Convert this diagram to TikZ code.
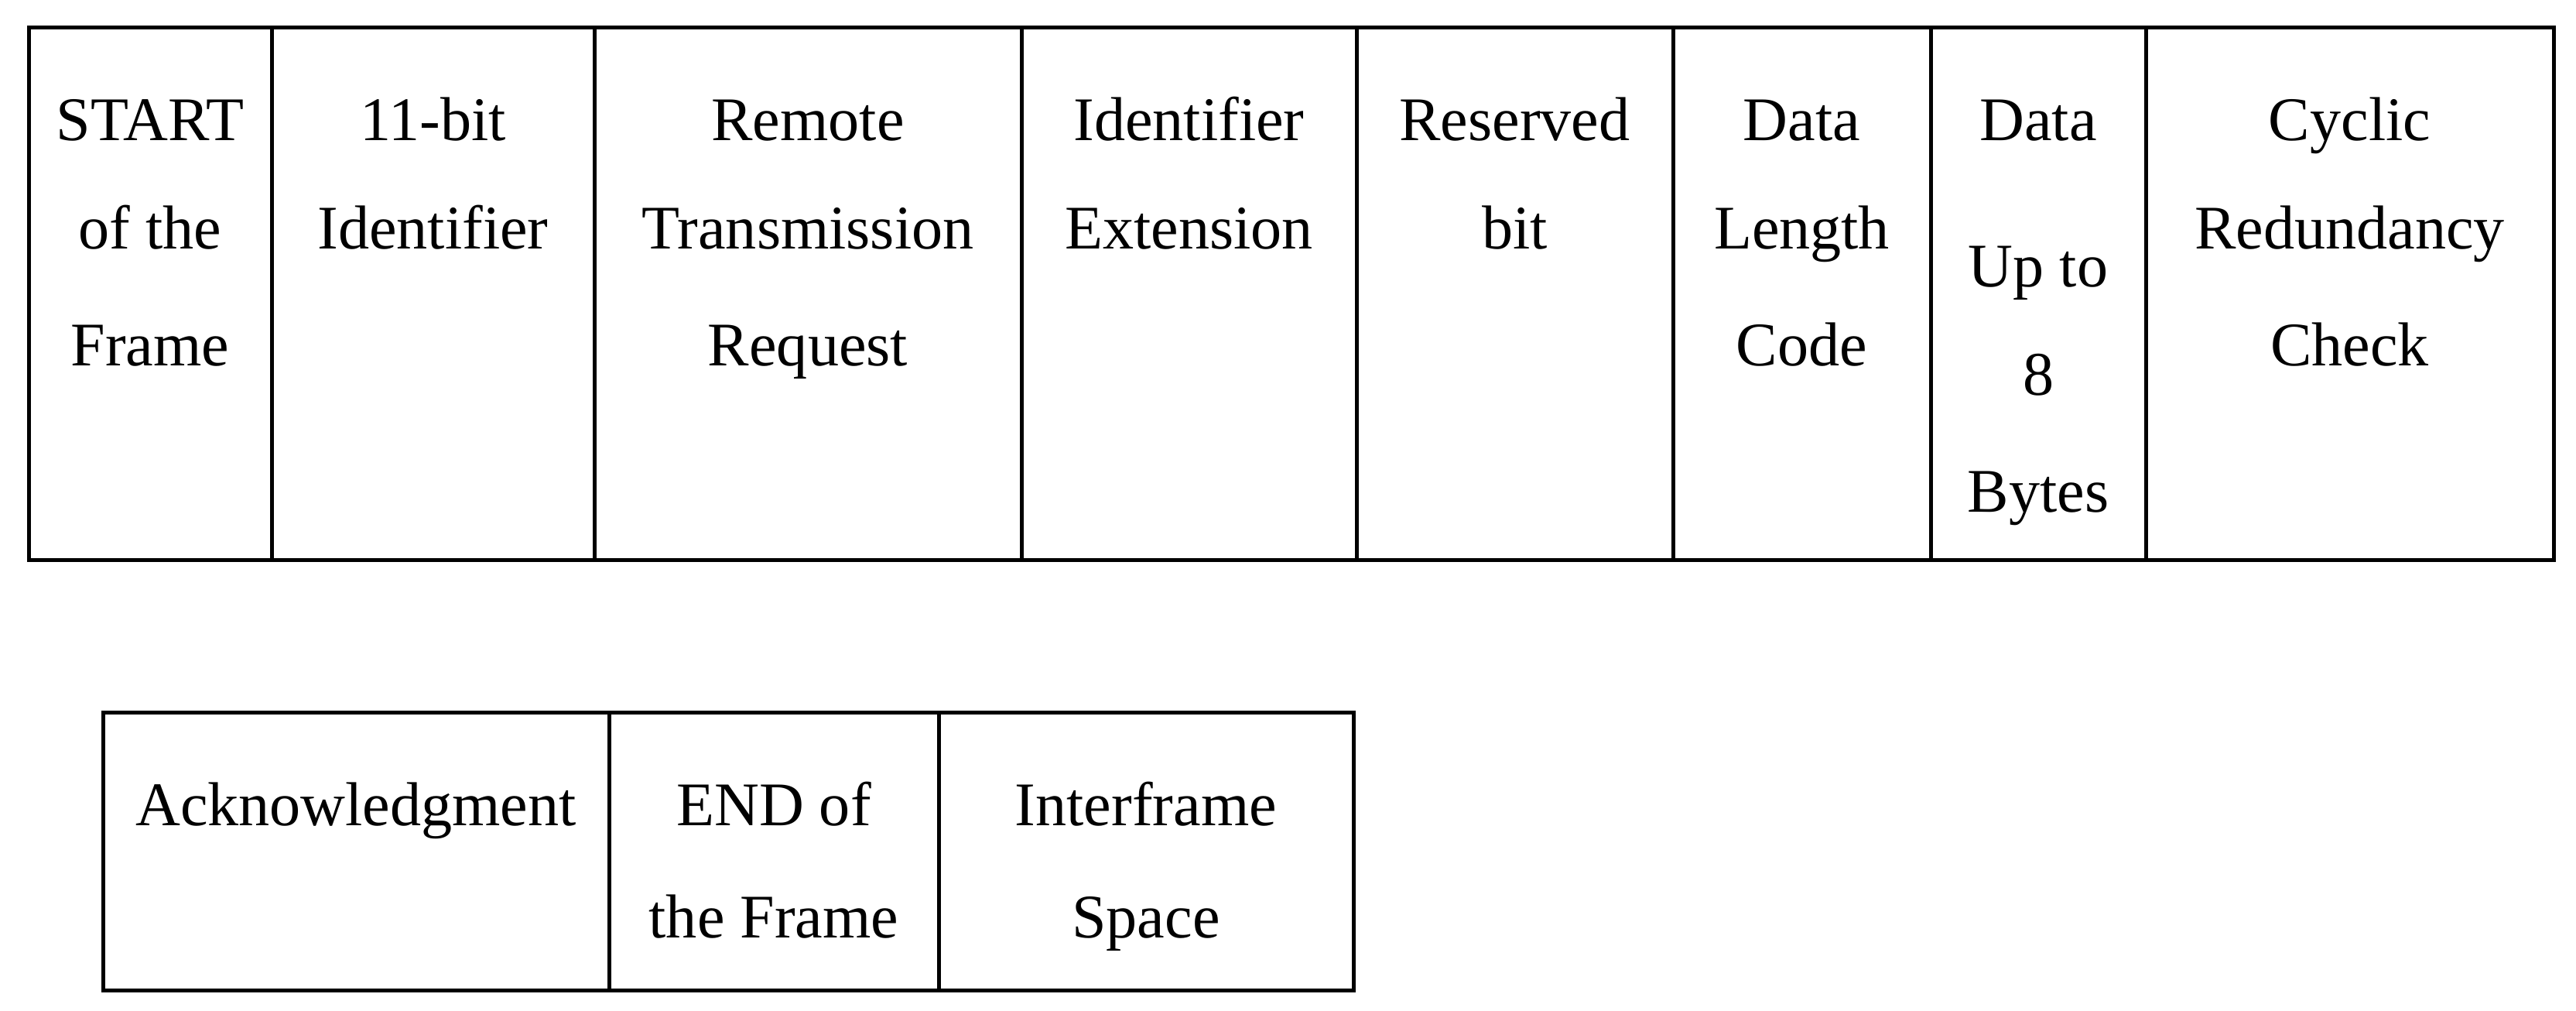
\documentclass[tikz,border=0pt]{standalone}
\usepackage{fontspec}
\setmainfont{Liberation Serif}
\begin{document}
\begin{tikzpicture}[
  cell/.style={draw=black, line width=0.05cm, rectangle, inner sep=0pt, outer sep=0pt},
  txt/.style={anchor=base, inner sep=0pt, font=\fontsize{22.8}{27}\selectfont}
]
\useasboundingbox (0,0) rectangle (33.29,-13.06);
\fill[white] (0,0) rectangle (33.29,-13.06);
% top row cells
\node[cell, minimum width=3.14cm, minimum height=6.88cm] (c1) at (1.94,-3.80) {};
\node[cell, minimum width=4.17cm, minimum height=6.88cm] (c2) at (5.595,-3.80) {};
\node[cell, minimum width=5.52cm, minimum height=6.88cm] (c3) at (10.44,-3.80) {};
\node[cell, minimum width=4.33cm, minimum height=6.88cm] (c4) at (15.365,-3.80) {};
\node[cell, minimum width=4.09cm, minimum height=6.88cm] (c5) at (19.575,-3.80) {};
\node[cell, minimum width=3.33cm, minimum height=6.88cm] (c6) at (23.285,-3.80) {};
\node[cell, minimum width=2.78cm, minimum height=6.88cm] (c7) at (26.34,-3.80) {};
\node[cell, minimum width=5.27cm, minimum height=6.88cm] (c8) at (30.365,-3.80) {};
% bottom row cells
\node[cell, minimum width=6.54cm, minimum height=3.59cm] (b1) at (4.60,-10.995) {};
\node[cell, minimum width=4.26cm, minimum height=3.59cm] (b2) at (10.00,-10.995) {};
\node[cell, minimum width=5.36cm, minimum height=3.59cm] (b3) at (14.81,-10.995) {};
% texts top
\node[txt] (t1a) at (1.94,-1.82) {START};
\node[txt] (t1b) at (1.94,-3.22) {of the};
\node[txt] (t1c) at (1.94,-4.73) {Frame};
\node[txt] (t2a) at (5.595,-1.82) {11-bit};
\node[txt] (t2b) at (5.595,-3.22) {Identifier};
\node[txt] (t3a) at (10.44,-1.82) {Remote};
\node[txt] (t3b) at (10.44,-3.22) {Transmission};
\node[txt] (t3c) at (10.44,-4.73) {Request};
\node[txt] (t4a) at (15.365,-1.82) {Identifier};
\node[txt] (t4b) at (15.365,-3.22) {Extension};
\node[txt] (t5a) at (19.575,-1.82) {Reserved};
\node[txt] (t5b) at (19.575,-3.22) {bit};
\node[txt] (t6a) at (23.285,-1.82) {Data};
\node[txt] (t6b) at (23.285,-3.22) {Length};
\node[txt] (t6c) at (23.285,-4.73) {Code};
\node[txt] (t7a) at (26.34,-1.82) {Data};
\node[txt] (t7b) at (26.34,-3.71) {Up to};
\node[txt] (t7c) at (26.34,-5.11) {8};
\node[txt] (t7d) at (26.34,-6.62) {Bytes};
\node[txt] (t8a) at (30.365,-1.82) {Cyclic};
\node[txt] (t8b) at (30.365,-3.22) {Redundancy};
\node[txt] (t8c) at (30.365,-4.73) {Check};
% texts bottom
\node[txt] (u1a) at (4.60,-10.66) {Acknowledgment};
\node[txt] (u2a) at (10.00,-10.66) {END of};
\node[txt] (u2b) at (10.00,-12.11) {the Frame};
\node[txt] (u3a) at (14.81,-10.66) {Interframe};
\node[txt] (u3b) at (14.81,-12.11) {Space};
\end{tikzpicture}
\end{document}
